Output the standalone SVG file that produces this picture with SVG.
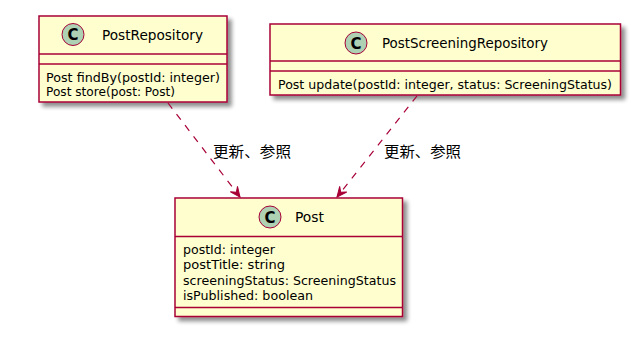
<svg xmlns="http://www.w3.org/2000/svg" width="638" height="340" viewBox="0 0 638 340">
<defs>
<filter id="sh" x="-10%" y="-10%" width="130%" height="140%">
<feGaussianBlur in="SourceAlpha" stdDeviation="2"/>
<feOffset dx="4" dy="4" result="b"/>
<feComponentTransfer><feFuncA type="linear" slope="0.45"/></feComponentTransfer>
<feMerge><feMergeNode/><feMergeNode in="SourceGraphic"/></feMerge>
</filter>
<marker id="ah" markerUnits="userSpaceOnUse" markerWidth="14" markerHeight="12" viewBox="-11 -6 14 12" refX="0" refY="0" orient="auto">
<path d="M0,0 L-10,-4.5 L-6,0 L-10,4.5 Z" fill="#A80036" stroke="#A80036" stroke-width="1"/>
</marker>
<style>
.box{fill:#FEFECE;stroke:#A80036;stroke-width:1.5;}
.sep{stroke:#A80036;stroke-width:1.5;}
.circ{fill:#ADD1B2;stroke:#A80036;stroke-width:1;}
.c{font-family:"DejaVu Sans",sans-serif;font-size:15px;font-weight:bold;fill:#000;text-anchor:middle;}
.t{font-family:"DejaVu Sans",sans-serif;font-size:13.5px;fill:#000;}
.m{font-family:"DejaVu Sans",sans-serif;font-size:12.5px;fill:#000;}
.lbl{font-family:"Noto Sans CJK JP","Noto Sans CJK SC",sans-serif;font-size:15px;fill:#000;}
.edge{fill:none;stroke:#A80036;stroke-width:1.2;stroke-dasharray:7,7;}
</style>
</defs>
<rect width="638" height="340" fill="#FFFFFF"/>
<g id="PostRepository">
<rect class="box" x="39" y="16" width="188" height="86" filter="url(#sh)"/>
<line class="sep" x1="39" y1="54" x2="227" y2="54"/>
<line class="sep" x1="39" y1="64" x2="227" y2="64"/>
<circle class="circ" cx="73" cy="34.5" r="11"/>
<text class="c" x="73" y="40">C</text>
<text class="t" x="102" y="39.5" textLength="101" lengthAdjust="spacingAndGlyphs">PostRepository</text>
<text class="m" x="46" y="81.5" textLength="174" lengthAdjust="spacingAndGlyphs">Post findBy(postId: integer)</text>
<text class="m" x="46" y="96" textLength="129" lengthAdjust="spacingAndGlyphs">Post store(post: Post)</text>
</g>
<g id="PostScreeningRepository">
<rect class="box" x="270" y="24" width="350.5" height="71" filter="url(#sh)"/>
<line class="sep" x1="270" y1="61" x2="620.5" y2="61"/>
<line class="sep" x1="270" y1="71" x2="620.5" y2="71"/>
<circle class="circ" cx="356" cy="43" r="11"/>
<text class="c" x="356" y="48.5">C</text>
<text class="t" x="382" y="48" textLength="166" lengthAdjust="spacingAndGlyphs">PostScreeningRepository</text>
<text class="m" x="278" y="88.5" textLength="334" lengthAdjust="spacingAndGlyphs">Post update(postId: integer, status: ScreeningStatus)</text>
</g>
<g id="Post">
<rect class="box" x="175" y="198" width="227.5" height="118.5" filter="url(#sh)"/>
<line class="sep" x1="175" y1="236.5" x2="402.5" y2="236.5"/>
<line class="sep" x1="175" y1="307.5" x2="402.5" y2="307.5"/>
<circle class="circ" cx="270" cy="217" r="11"/>
<text class="c" x="270" y="222.5">C</text>
<text class="t" x="295" y="222" textLength="29" lengthAdjust="spacingAndGlyphs">Post</text>
<text class="m" x="183" y="253.5" textLength="92" lengthAdjust="spacingAndGlyphs">postId: integer</text>
<text class="m" x="183" y="269" textLength="102" lengthAdjust="spacingAndGlyphs">postTitle: string</text>
<text class="m" x="183" y="284.5" textLength="213" lengthAdjust="spacingAndGlyphs">screeningStatus: ScreeningStatus</text>
<text class="m" x="183" y="300" textLength="130" lengthAdjust="spacingAndGlyphs">isPublished: boolean</text>
</g>
<g id="connectors">
<path class="edge" d="M168,103 L240,197" marker-end="url(#ah)"/>
<text class="lbl" x="213" y="157" textLength="78" lengthAdjust="spacingAndGlyphs">更新、参照</text>
<path class="edge" d="M417,96 L337,197" marker-end="url(#ah)"/>
<text class="lbl" x="384" y="157" textLength="77" lengthAdjust="spacingAndGlyphs">更新、参照</text>
</g>
</svg>
